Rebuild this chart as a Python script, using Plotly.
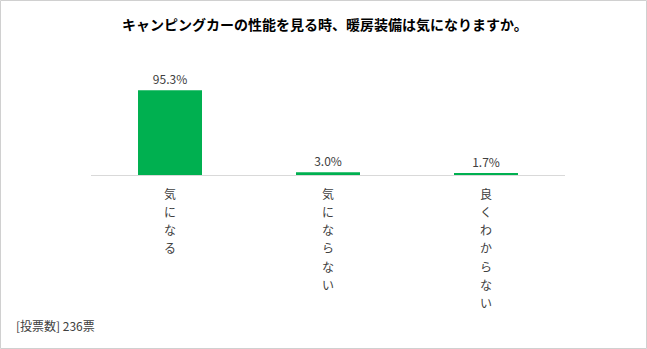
import plotly.graph_objects as go

title = "キャンピングカーの性能を見る時、暖房装備は気になりますか。"
categories = ["気になる", "気にならない", "良くわからない"]
values = [95.3, 3.0, 1.7]
value_labels = ["95.3%", "3.0%", "1.7%"]
footer = "[投票数] 236票"

W, H = 647, 349
L, R, T, B = 91, 82, 86, 174
pw, ph = W - L - R, H - T - B
FONT = "Noto Sans CJK JP"

fig = go.Figure()
fig.add_trace(go.Bar(
    x=categories, y=values, width=0.405,
    marker=dict(color="#00B050", line=dict(width=0)),
    text=value_labels, textposition="outside", cliponaxis=False,
    textfont=dict(family=FONT, size=12, color="#404040"),
    hoverinfo="skip",
))

annotations = []
for cat in categories:
    for i, ch in enumerate(cat):
        annotations.append(dict(
            x=cat, y=0, xref="x", yref="y", text=ch, showarrow=False,
            yshift=-(18 + i * 18.3), font=dict(family=FONT, size=12, color="#404040"),
            xanchor="center", yanchor="middle",
        ))
annotations.append(dict(
    x=(14 - L) / pw, y=(H - 325 - B) / ph, xref="paper", yref="paper",
    text=footer, showarrow=False, xanchor="left", yanchor="middle",
    font=dict(family=FONT, size=12, color="#404040"),
))
annotations.append(dict(
    x=(325 - L) / pw, y=(H - 24 - B) / ph, xref="paper", yref="paper",
    text="<b>" + title + "</b>", showarrow=False, xanchor="center", yanchor="middle",
    font=dict(family=FONT, size=14, color="#000000"),
))

shapes = [dict(
    type="rect", xref="paper", yref="paper", layer="above",
    x0=(0.5 - L) / pw, x1=(W - 0.5 - L) / pw,
    y0=(H - 0.5 - B - H + 0) / ph * 0 + (0.5 - B) / ph, y1=(H - 0.5 - B) / ph,
    line=dict(color="#d0d0d0", width=1),
)]

fig.update_layout(
    width=W, height=H,
    margin=dict(l=L, r=R, t=T, b=B),
    paper_bgcolor="white", plot_bgcolor="white",
    showlegend=False,
    bargap=0.6,
    xaxis=dict(showticklabels=False, showline=True, linecolor="#d9d9d9", linewidth=1,
               ticks="", showgrid=False, zeroline=False, fixedrange=True),
    yaxis=dict(range=[0, 100], visible=False, showgrid=False, zeroline=False, fixedrange=True),
    annotations=annotations,
    shapes=shapes,
)

fig.write_html("out.html")
